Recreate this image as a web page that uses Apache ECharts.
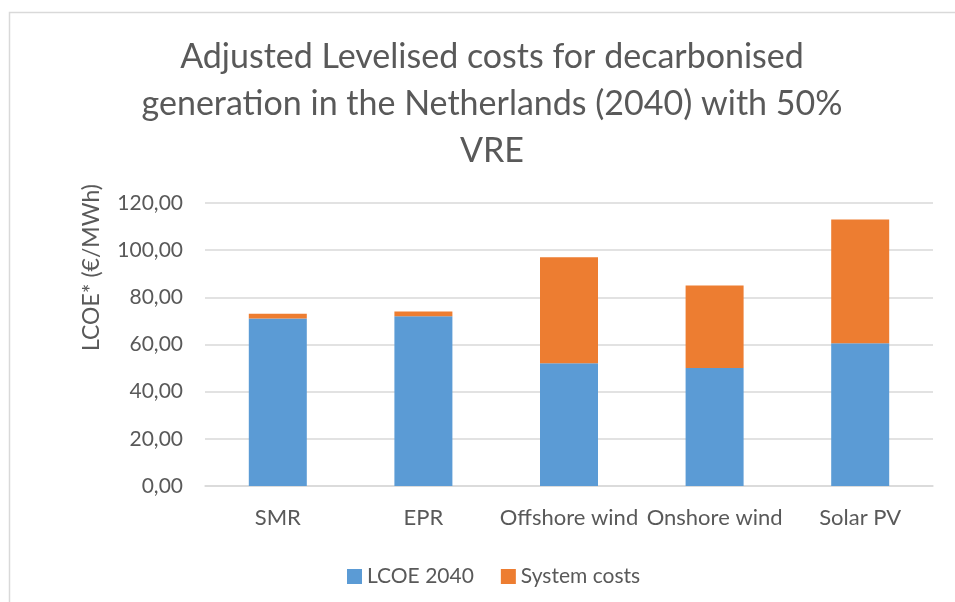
<!DOCTYPE html>
<html>
<head>
<meta charset="utf-8">
<script src="https://cdn.jsdelivr.net/npm/echarts@6/dist/echarts.min.js"></script>
<style>html,body{margin:0;padding:0;background:#fff}#chart{width:955px;height:602px}</style>
</head>
<body>
<div id="chart"></div>
<script>
const categories = ['SMR', 'EPR', 'Offshore wind', 'Onshore wind', 'Solar PV'];
const lcoe2040 = [71, 72, 52, 50, 60.5];
const systemCosts = [2, 2, 45, 35, 52.5];
const seriesNames = ['LCOE 2040', 'System costs'];
const titleText = 'Adjusted Levelised costs for decarbonised\ngeneration in the Netherlands (2040) with 50%\nVRE';
const yAxisName = 'LCOE* (€/MWh)';

const FONT = 'Lato, "Open Sans", sans-serif';
const chart = echarts.init(document.getElementById('chart'));
chart.setOption({
  animation: false,
  textStyle: { fontFamily: FONT },
  graphic: [{
    type: 'rect',
    shape: { x: 9.5, y: 12.5, width: 1000, height: 700 },
    style: { fill: 'none', stroke: '#d9d9d9', lineWidth: 1.5 },
    silent: true, z: -10
  }],
  title: {
    text: titleText,
    left: 487,
    top: 29,
    textAlign: 'center',
    textStyle: { fontFamily: FONT, fontSize: 34, fontWeight: 'normal', color: '#595959', lineHeight: 47 }
  },
  legend: {
    data: seriesNames,
    left: 342,
    top: 561,
    itemWidth: 15,
    itemHeight: 15,
    itemGap: 27,
    icon: 'rect',
    textStyle: { fontFamily: FONT, fontSize: 21, color: '#595959' }
  },
  grid: { left: 205, right: 22, top: 203, bottom: 116, containLabel: false },
  xAxis: {
    type: 'category',
    data: categories,
    axisTick: { show: false },
    axisLine: { lineStyle: { color: '#d9d9d9', width: 1.5 } },
    axisLabel: { color: '#595959', fontSize: 22, margin: 21, fontFamily: FONT, interval: 0 }
  },
  yAxis: {
    type: 'value',
    min: 0, max: 120, interval: 20,
    name: yAxisName,
    nameLocation: 'middle',
    nameGap: 102,
    nameTextStyle: { color: '#595959', fontSize: 23, fontFamily: FONT, padding: [0, 0, 0, 154] },
    axisLine: { show: false },
    axisTick: { show: false },
    splitLine: { lineStyle: { color: '#d9d9d9', width: 1.5 } },
    axisLabel: {
      color: '#595959', fontSize: 21, margin: 22, fontFamily: FONT,
      formatter: v => v.toFixed(2).replace('.', ',')
    }
  },
  series: [
    { name: seriesNames[0], type: 'bar', stack: 'total', data: lcoe2040, barWidth: 58, itemStyle: { color: '#5B9BD5' } },
    { name: seriesNames[1], type: 'bar', stack: 'total', data: systemCosts, barWidth: 58, itemStyle: { color: '#ED7D31' } }
  ]
});
</script>
</body>
</html>
